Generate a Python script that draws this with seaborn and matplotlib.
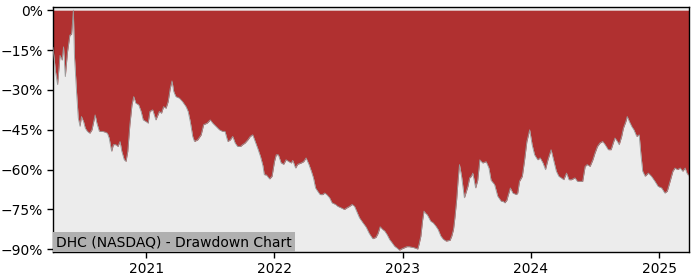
import matplotlib
matplotlib.use("Agg")
import matplotlib.pyplot as plt
from matplotlib.ticker import FuncFormatter, FixedLocator
import seaborn as sns
import pandas as pd

sns.set_style("white")
plt.rcParams['font.family'] = ['DejaVu Sans']

dates = [
    "2020-04-10", "2020-04-17", "2020-04-23", "2020-04-30", "2020-05-06", "2020-05-10", "2020-05-15",
    "2020-05-21", "2020-05-28", "2020-06-02", "2020-06-07", "2020-06-10", "2020-06-16", "2020-06-21",
    "2020-06-26", "2020-06-30", "2020-07-06", "2020-07-11", "2020-07-17", "2020-07-24", "2020-07-30",
    "2020-08-03", "2020-08-08", "2020-08-13", "2020-08-20", "2020-08-29", "2020-09-06", "2020-09-12",
    "2020-09-17", "2020-09-24", "2020-09-29", "2020-10-06", "2020-10-12", "2020-10-18", "2020-10-23",
    "2020-10-30", "2020-11-04", "2020-11-09", "2020-11-15", "2020-11-21", "2020-11-26", "2020-12-02",
    "2020-12-10", "2020-12-17", "2020-12-23", "2020-12-31", "2021-01-06", "2021-01-11", "2021-01-19",
    "2021-01-28", "2021-02-07", "2021-02-13", "2021-02-19", "2021-02-26", "2021-03-04", "2021-03-10",
    "2021-03-15", "2021-03-20", "2021-03-26", "2021-04-05", "2021-04-14", "2021-04-24", "2021-04-30",
    "2021-05-06", "2021-05-13", "2021-05-18", "2021-05-27", "2021-06-06", "2021-06-13", "2021-06-23",
    "2021-07-02", "2021-07-09", "2021-07-19", "2021-07-28", "2021-08-06", "2021-08-13", "2021-08-21",
    "2021-08-28", "2021-09-04", "2021-09-11", "2021-09-18", "2021-09-26", "2021-10-02", "2021-10-09",
    "2021-10-17", "2021-10-24", "2021-10-31", "2021-11-07", "2021-11-14", "2021-11-22", "2021-11-29",
    "2021-12-03", "2021-12-09", "2021-12-18", "2021-12-25", "2022-01-01", "2022-01-06", "2022-01-12",
    "2022-01-20", "2022-01-27", "2022-02-03", "2022-02-11", "2022-02-18", "2022-02-22", "2022-03-02",
    "2022-03-08", "2022-03-18", "2022-03-25", "2022-04-01", "2022-04-09", "2022-04-16", "2022-04-22",
    "2022-04-28", "2022-05-04", "2022-05-11", "2022-05-18", "2022-05-24", "2022-05-30", "2022-06-07",
    "2022-06-14", "2022-06-24", "2022-06-30", "2022-07-10", "2022-07-19", "2022-07-26", "2022-08-03",
    "2022-08-10", "2022-08-17", "2022-08-23", "2022-08-31", "2022-09-10", "2022-09-19", "2022-09-28",
    "2022-10-08", "2022-10-17", "2022-10-23", "2022-10-29", "2022-11-05", "2022-11-11", "2022-11-18",
    "2022-11-25", "2022-12-02", "2022-12-09", "2022-12-16", "2022-12-23", "2022-12-30", "2023-01-06",
    "2023-01-13", "2023-01-20", "2023-01-27", "2023-02-03", "2023-02-13", "2023-02-17", "2023-02-22",
    "2023-02-27", "2023-03-03", "2023-03-08", "2023-03-12", "2023-03-22", "2023-03-29", "2023-04-06",
    "2023-04-12", "2023-04-20", "2023-04-27", "2023-05-05", "2023-05-16", "2023-05-21", "2023-05-26",
    "2023-05-30", "2023-06-04", "2023-06-08", "2023-06-12", "2023-06-18", "2023-06-26", "2023-07-01",
    "2023-07-06", "2023-07-11", "2023-07-16", "2023-07-20", "2023-07-28", "2023-08-03", "2023-08-09",
    "2023-08-17", "2023-08-27", "2023-09-04", "2023-09-10", "2023-09-20", "2023-09-29", "2023-10-09",
    "2023-10-14", "2023-10-19", "2023-10-25", "2023-10-28", "2023-11-04", "2023-11-11", "2023-11-21",
    "2023-11-25", "2023-11-30", "2023-12-08", "2023-12-14", "2023-12-21", "2023-12-29", "2024-01-05",
    "2024-01-12", "2024-01-21", "2024-01-28", "2024-02-05", "2024-02-12", "2024-02-19", "2024-02-28",
    "2024-03-06", "2024-03-14", "2024-03-21", "2024-03-28", "2024-04-04", "2024-04-12", "2024-04-19",
    "2024-04-26", "2024-05-06", "2024-05-13", "2024-05-20", "2024-05-28", "2024-06-04", "2024-06-10",
    "2024-06-18", "2024-06-26", "2024-07-02", "2024-07-09", "2024-07-16", "2024-07-24", "2024-07-31",
    "2024-08-09", "2024-08-17", "2024-08-23", "2024-08-28", "2024-09-04", "2024-09-09", "2024-09-16",
    "2024-09-21", "2024-09-28", "2024-10-02", "2024-10-08", "2024-10-15", "2024-10-21", "2024-10-29",
    "2024-11-05", "2024-11-10", "2024-11-15", "2024-11-22", "2024-12-01", "2024-12-10", "2024-12-20",
    "2024-12-29", "2025-01-08", "2025-01-17", "2025-01-24", "2025-02-01", "2025-02-09", "2025-02-15",
    "2025-02-22", "2025-03-02", "2025-03-09", "2025-03-16", "2025-03-21", "2025-03-27",
]

drawdown = [
    -14.0, -23.0, -28.0, -17.0, -18.8, -13.8, -25.0,
    -16.0, -9.4, -9.0, 0.0, -17.0, -30.6, -40.6,
    -43.7, -40.0, -41.9, -44.4, -45.6, -46.3, -45.0,
    -42.5, -39.4, -42.5, -45.6, -45.6, -45.9, -46.3,
    -48.1, -53.1, -50.6, -50.6, -51.3, -49.4, -53.1,
    -56.3, -56.9, -53.1, -43.1, -35.6, -32.5, -35.0,
    -35.6, -38.1, -41.3, -41.9, -42.5, -38.1, -37.5,
    -41.3, -38.1, -38.8, -36.3, -36.9, -34.4, -29.4,
    -26.6, -30.6, -32.5, -33.1, -34.4, -36.3, -38.1,
    -41.9, -47.5, -49.4, -48.8, -46.9, -43.1, -42.5,
    -41.3, -42.5, -43.8, -45.0, -45.6, -45.6, -49.4,
    -48.8, -47.5, -50.0, -51.3, -51.3, -50.6, -50.0,
    -48.8, -47.5, -46.9, -49.4, -51.9, -55.0, -58.5,
    -61.9, -62.0, -63.5, -62.5, -56.9, -54.4, -54.4,
    -57.5, -58.0, -56.3, -57.0, -57.5, -56.5, -59.4,
    -58.0, -57.5, -57.0, -55.6, -58.0, -60.6, -63.1,
    -66.9, -68.1, -69.4, -69.4, -68.8, -69.4, -70.6,
    -72.5, -73.1, -73.8, -74.4, -75.0, -74.4, -73.8,
    -73.1, -73.8, -75.6, -78.1, -80.0, -81.6, -84.0,
    -86.0, -85.5, -84.0, -81.5, -82.5, -83.1, -84.5,
    -86.3, -87.5, -88.8, -89.5, -90.3, -89.8, -89.4,
    -89.0, -89.0, -89.2, -89.4, -89.9, -88.0, -85.0,
    -79.0, -75.6, -76.5, -76.9, -79.4, -80.0, -81.3,
    -82.5, -85.0, -86.2, -86.9, -86.6, -85.0, -82.5,
    -78.0, -71.3, -64.0, -58.1, -62.5, -70.6, -68.5,
    -66.3, -63.1, -62.5, -61.3, -66.9, -64.0, -56.3,
    -57.5, -57.0, -59.4, -64.0, -65.6, -70.0, -71.9,
    -71.9, -72.5, -71.5, -70.0, -66.9, -68.8, -69.4,
    -68.8, -64.4, -62.5, -56.9, -49.4, -45.0, -50.6,
    -54.4, -56.3, -55.6, -57.5, -60.0, -56.3, -52.5,
    -56.3, -60.6, -62.5, -63.1, -63.8, -61.3, -63.8,
    -63.8, -63.1, -64.4, -64.4, -64.4, -58.8, -58.1,
    -58.8, -56.3, -53.8, -51.3, -50.0, -49.4, -50.6,
    -52.5, -52.5, -50.0, -48.1, -49.4, -50.6, -47.5,
    -44.4, -41.9, -40.0, -41.9, -43.8, -45.0, -47.5,
    -46.9, -54.4, -60.6, -62.5, -61.3, -62.5, -64.4,
    -66.3, -66.9, -68.8, -68.1, -64.4, -60.6, -59.4,
    -60.0, -59.4, -60.6, -59.4, -61.3, -62.5,
]

yticks = [0, -15, -30, -45, -60, -75, -90]
xtick_years = ["2021", "2022", "2023", "2024", "2025"]
label_text = "DHC (NASDAQ) - Drawdown Chart"

df = pd.DataFrame({"date": pd.to_datetime(dates), "drawdown": drawdown})

fig = plt.figure(figsize=(7, 2.8), dpi=100)
ax = fig.add_axes([0.0757, 0.1, 0.9086, 0.875])
ax.set_facecolor("#ececec")

ax.fill_between(df["date"], df["drawdown"], 0, color="#b03030", linewidth=0, zorder=2)
sns.lineplot(data=df, x="date", y="drawdown", ax=ax, color="#9a9a9a", linewidth=0.6, zorder=3)

ax.set_xlim(df["date"].min(), df["date"].max())
ax.set_ylim(-91, 1.2)
ax.yaxis.set_major_locator(FixedLocator(yticks))
ax.yaxis.set_major_formatter(FuncFormatter(lambda v, p: f"{v:.0f}%".replace("-", "\u2212")))
ax.set_xticks(pd.to_datetime([y + "-01-01" for y in xtick_years]))
ax.set_xticklabels(xtick_years)
ax.set_xlabel("")
ax.set_ylabel("")
ax.tick_params(axis="both", which="both", direction="out", length=4, width=1, colors="black",
               labelsize=10, bottom=True, left=True)
for s in ax.spines.values():
    s.set_visible(True)
    s.set_color("black")
    s.set_linewidth(1)

ax.text(0.005, 0.012, label_text, transform=ax.transAxes, fontsize=10, color="black",
        ha="left", va="bottom", zorder=5,
        bbox=dict(facecolor="#b0b0b0", edgecolor="none", pad=2))

fig.savefig("out.png", dpi=100)
